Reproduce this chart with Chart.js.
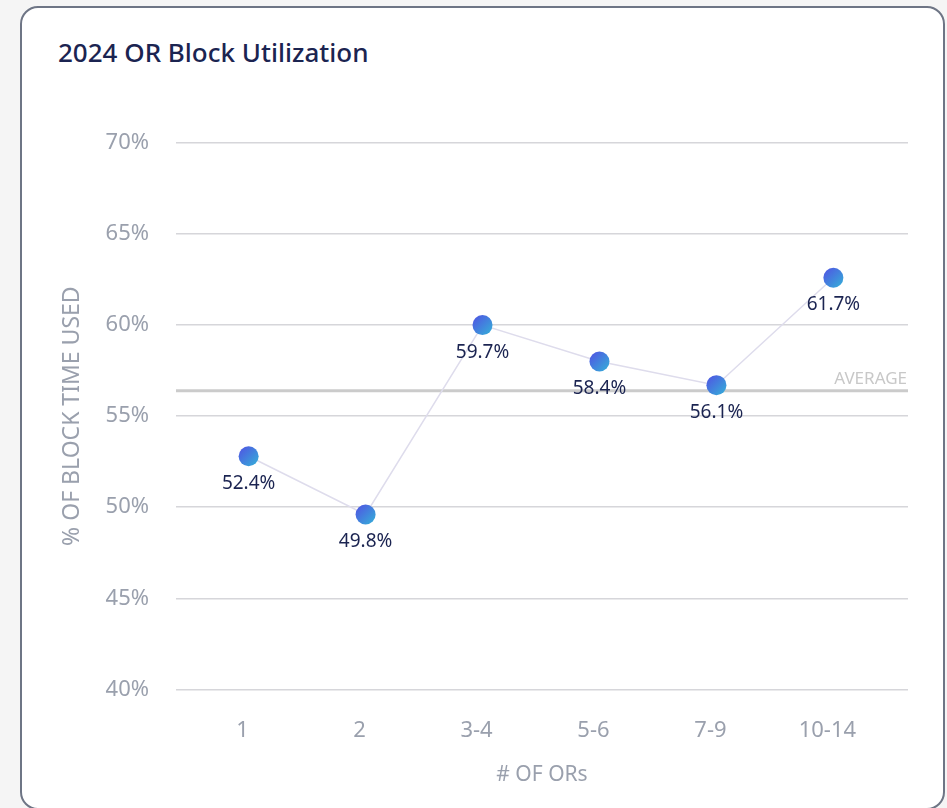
<!DOCTYPE html>
<html>
<head>
<meta charset="utf-8">
<script src="https://cdn.jsdelivr.net/npm/chart.js@4.4.1/dist/chart.umd.min.js"></script>
<style>
  html, body { margin: 0; padding: 0; background: #f5f5f5; width: 947px; height: 808px; overflow: hidden; }
  #card {
    position: absolute; left: 20px; top: 6px; width: 921px; height: 800px;
    background: #fff; border: 2px solid #6e7585; border-radius: 18px;
  }
  #title {
    position: absolute; left: 58px; top: 37px; margin: 0;
    font-family: "Noto Sans", sans-serif; font-size: 26px; line-height: 30px;
    font-weight: 500; color: #1b2451;
  }
  #wrap { position: absolute; left: 0; top: 0; width: 947px; height: 808px; }
</style>
</head>
<body>
<div id="card"></div>
<h1 id="title">2024 OR Block Utilization</h1>
<div id="wrap"><canvas id="myChart"></canvas></div>
<script>
// categories and values
const orGroups = ["1", "2", "3-4", "5-6", "7-9", "10-14"];
const plotted = [52.8, 49.6, 60.0, 58.0, 56.7, 62.6];     // where the dots sit
const shownText = ["52.4%", "49.8%", "59.7%", "58.4%", "56.1%", "61.7%"]; // printed labels
const averageValue = 56.4;
const yTicks = [40, 45, 50, 55, 60, 65, 70];

const tickColor = "#9aa0ad";
const navy = "#1b2451";
const font = "'Noto Sans', sans-serif";

function dotFill(ctx) {
     const chart = ctx.chart;
     if (!chart.chartArea || ctx.type !== "data") return "#4a6fdc";
     const x = chart.scales.x.getPixelForValue(ctx.dataIndex);
     const y = chart.scales.y.getPixelForValue(plotted[ctx.dataIndex]);
     const r = 10;
     const g = chart.ctx.createLinearGradient(x - r, y - r, x + r, y + r);
     g.addColorStop(0, "#5150e3");
     g.addColorStop(1, "#34b2d8");
     return g;
}

const averageLine = {
     id: "averageLine",
     beforeDatasetsDraw(chart) {
          const { ctx, chartArea, scales } = chart;
          const y = scales.y.getPixelForValue(averageValue);
          ctx.save();
          ctx.strokeStyle = "#cbcbcb";
          ctx.lineWidth = 3;
          ctx.beginPath();
          ctx.moveTo(chartArea.left, y);
          ctx.lineTo(chartArea.right, y);
          ctx.stroke();
          ctx.fillStyle = "#c8c8c8";
          ctx.font = "17px " + font;
          ctx.textAlign = "right";
          ctx.textBaseline = "alphabetic";
          ctx.fillText("AVERAGE", chartArea.right - 1, y - 7);
          ctx.restore();
     }
};

const pointLabels = {
     id: "pointLabels",
     afterDatasetsDraw(chart) {
          const { ctx } = chart;
          const meta = chart.getDatasetMeta(0);
          ctx.save();
          ctx.fillStyle = navy;
          ctx.font = "19px " + font;
          ctx.textAlign = "center";
          ctx.textBaseline = "middle";
          meta.data.forEach((pt, i) => {
               ctx.fillText(shownText[i], pt.x, pt.y + 27);
          });
          ctx.restore();
     }
};

const data = {
     datasets: [{
          data: plotted.map((v, i) => ({ x: i, y: v })),
          borderColor: "#dedcec",
          borderWidth: 1.5,
          pointRadius: 10,
          pointHoverRadius: 10,
          pointBorderWidth: 0,
          pointBackgroundColor: dotFill,
          tension: 0
     }]
};

const config = {
     type: "line",
     data: data,
     options: {
          responsive: true,
          maintainAspectRatio: false,
          animation: false,
          events: [],
          layout: { padding: { top: 143, right: 39, bottom: 0, left: 0 } },
          plugins: { legend: { display: false }, tooltip: { enabled: false } },
          scales: {
               x: {
                    type: "linear",
                    min: -0.621,
                    max: 5.638,
                    afterBuildTicks: axis => { axis.ticks = orGroups.map((c, i) => ({ value: i })); },
                    afterFit: axis => { axis.height = 118.7; },
                    grid: { display: false, drawTicks: false },
                    border: { display: false },
                    ticks: {
                         callback: v => orGroups[v],
                         color: tickColor,
                         font: { family: font, size: 22 },
                         padding: 28,
                         labelOffset: -6,
                         maxRotation: 0,
                         autoSkip: false
                    },
                    title: {
                         display: true,
                         text: "# OF ORs",
                         color: tickColor,
                         font: { family: font, size: 21 },
                         padding: { top: 0, bottom: 20 }
                    }
               },
               y: {
                    min: 40,
                    max: 70,
                    afterBuildTicks: axis => { axis.ticks = yTicks.map(v => ({ value: v })); },
                    afterFit: axis => { axis.width = 176; },
                    grid: { color: "#d6d6da", lineWidth: 1.5, drawTicks: false },
                    border: { display: false },
                    ticks: {
                         callback: v => v + "%",
                         color: tickColor,
                         font: { family: font, size: 22 },
                         padding: 27
                    },
                    title: {
                         display: true,
                         text: "% OF BLOCK TIME USED",
                         color: tickColor,
                         font: { family: font, size: 23 },
                         padding: { top: 59, bottom: 0 }
                    }
               }
          }
     },
     plugins: [averageLine, pointLabels]
};

const myChart = new Chart(document.getElementById("myChart"), config);
</script>
</body>
</html>
